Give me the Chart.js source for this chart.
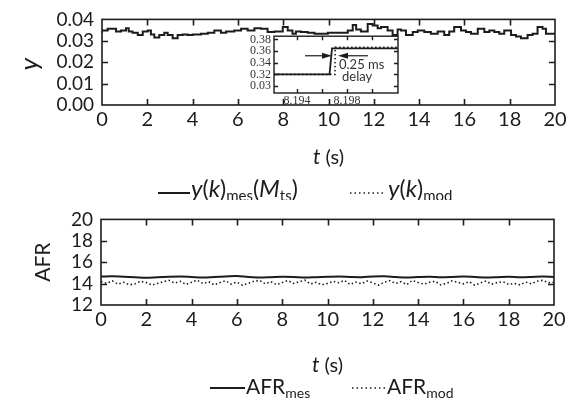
<!DOCTYPE html>
<html>
<head>
<meta charset="utf-8">
<script src="https://cdn.jsdelivr.net/npm/chart.js@4/dist/chart.umd.min.js"></script>
<style>
body{margin:0;background:#fff;}
#wrap{position:relative;width:571px;height:401px;overflow:hidden;}
canvas{position:absolute;}
</style>
</head>
<body>
<div id="wrap">
<canvas id="top" width="571" height="200" style="left:0;top:0"></canvas>
<canvas id="afr" width="571" height="201" style="left:0;top:200px"></canvas>
<canvas id="inset" width="180" height="86" style="left:226px;top:26px"></canvas>
</div>
<script>
// top panel: y(k)_mes, stepped (breakpoints)
const mesT = [0,0.25,0.62,0.84,1.06,1.18,1.35,1.58,1.8,2.02,2.16,2.31,2.53,2.75,2.9,3.12,3.34,3.56,3.78,4.0,
  4.37,4.67,4.96,5.25,5.48,5.84,6.14,6.43,6.73,7.02,7.31,7.61,7.98,
  8.2,8.41,8.56,8.79,9.08,9.38,9.97,10.26,10.85,11.07,11.22,11.43,11.73,11.95,12.17,12.32,12.61,12.83,
  13.05,13.2,13.42,13.72,13.94,14.23,14.52,14.82,15.11,15.33,15.55,15.85,16.07,16.29,16.59,16.88,
  17.1,17.32,17.54,17.76,18.06,18.28,18.5,18.79,19.01,19.23,19.45,19.6,19.82,20];
const mesY = [0.0336,0.0348,0.0356,0.0344,0.0348,0.0359,0.0344,0.0338,0.0327,0.0344,0.0348,0.0329,0.0315,0.0327,0.0338,0.0327,0.0312,0.0327,0.0330,0.0327,
  0.0330,0.0333,0.0338,0.0348,0.0338,0.0344,0.0348,0.0356,0.0348,0.0359,0.0356,0.0341,0.0344,
  0.0364,0.0348,0.0333,0.0344,0.0341,0.0338,0.0333,0.0338,0.0338,0.0348,0.0374,0.0353,0.0344,0.0379,0.0371,0.0359,0.0364,0.0348,
  0.0327,0.0353,0.0348,0.0327,0.0341,0.0348,0.0341,0.0333,0.0344,0.0327,0.0344,0.0364,0.0348,0.0341,0.0333,0.0356,
  0.0341,0.0348,0.0341,0.0333,0.0348,0.0327,0.0320,0.0312,0.0327,0.0333,0.0364,0.0356,0.0333,0.0333];
const topTicksX = [0,2,4,6,8,10,12,14,16,18,20];
const topTicksY = [0,0.01,0.02,0.03,0.04];

// inset: zoom on the step near t = 8.197 s
const insetMesT = [8.19216,8.1966,8.1968,8.20208];
const insetMesY = [0.32,0.32,0.3648,0.3648];
const insetModT = [8.19216,8.19704,8.19705,8.20208];
const insetModY = [0.32,0.32,0.3664,0.3664];
const insetTicksX = [8.194,8.196,8.198,8.2];
const insetLabelsX = {'8.194':'8.194','8.198':'8.198'};
const insetTicksY = [0.30,0.32,0.34,0.36,0.38];
const insetLabelsY = ['0.03','0.32','0.34','0.36','0.38'];
const arrowY = 0.352;
const arrowLeft = [8.19464,8.1968];
const arrowRight = [8.19968,8.19728];

// bottom panel: AFR
const afrMesT = [0,0.5,1,1.5,2,2.5,3,3.5,4,4.5,5,5.5,6,6.5,7,7.5,8,8.5,9,9.5,
  10,10.5,11,11.5,12,12.5,13,13.5,14,14.5,15,15.5,16,16.5,17,17.5,18,18.5,19,19.5,20];
const afrMes = [14.66,14.68,14.64,14.6,14.55,14.6,14.64,14.66,14.62,14.58,
  14.62,14.66,14.7,14.62,14.57,14.6,14.64,14.62,14.56,14.6,
  14.63,14.66,14.62,14.6,14.66,14.68,14.62,14.57,14.62,14.65,
  14.6,14.62,14.66,14.62,14.57,14.6,14.64,14.6,14.62,14.66,14.62];
const afrModT = [0,0.25,0.5,0.75,1,1.25,1.5,1.75,2,2.25,2.5,2.75,3,3.25,3.5,3.75,4,4.25,4.5,4.75,
  5,5.25,5.5,5.75,6,6.25,6.5,6.75,7,7.25,7.5,7.75,8,8.25,8.5,8.75,9,9.25,9.5,9.75,
  10,10.25,10.5,10.75,11,11.25,11.5,11.75,12,12.25,12.5,12.75,13,13.25,13.5,13.75,14,14.25,14.5,14.75,
  15,15.25,15.5,15.75,16,16.25,16.5,16.75,17,17.25,17.5,17.75,18,18.25,18.5,18.75,19,19.25,19.5,19.75,20];
const afrMod = [14.18,14.02,14.25,13.95,14.12,13.88,13.98,14.22,14.1,13.86,
  14.02,14.18,14.3,14.05,14.22,13.92,14.12,14.32,14.0,14.18,
  13.88,14.1,14.26,13.95,14.14,13.84,14.02,14.22,14.3,13.98,
  14.18,13.9,14.1,14.28,14.02,14.18,14.32,13.96,14.12,13.88,
  14.02,14.22,14.08,14.3,13.92,14.14,13.98,14.24,14.06,13.86,
  14.12,14.28,14.02,14.18,13.9,14.3,14.1,13.95,14.12,14.22,
  13.88,14.02,14.26,14.12,13.98,14.18,13.86,14.06,14.24,13.95,
  14.1,14.18,13.92,14.02,13.88,14.14,13.98,14.22,14.3,14.08,14.12];
const afrTicksY = [12,14,16,18,20];

const INK = '#1c1c1c';
const FONT = 'Lato';

function pts(xs, ys){ return xs.map((x,i)=>({x:x,y:ys[i]})); }

// write text made of pieces (italic, subscripts) side by side
function rich(ctx, x, y, parts, align){
  let w = 0;
  parts.forEach(p=>{ ctx.font = p[1]; w += ctx.measureText(p[0]).width; });
  let cx = align === 'center' ? x - w/2 : x;
  ctx.textAlign = 'left';
  ctx.textBaseline = 'alphabetic';
  parts.forEach(p=>{ ctx.font = p[1]; ctx.fillText(p[0], cx, y + (p[2]||0)); cx += ctx.measureText(p[0]).width; });
}

function sample(ctx, x1, x2, y, dotted){
  ctx.save();
  ctx.strokeStyle = INK;
  ctx.lineWidth = dotted ? 1.6 : 2;
  if (dotted) ctx.setLineDash([1.5,3]);
  ctx.beginPath(); ctx.moveTo(x1,y); ctx.lineTo(x2,y); ctx.stroke();
  ctx.restore();
}

// box round the plot with inward ticks on all four sides
const frame = {
  id:'frame',
  afterDatasetsDraw(chart, args, o){
    const ctx = chart.ctx, a = chart.chartArea, xs = chart.scales.x, ys = chart.scales.y;
    const len = o.len || 6;
    ctx.save();
    ctx.strokeStyle = o.color || INK;
    ctx.lineWidth = o.width || 1.5;
    ctx.strokeRect(a.left, a.top, a.right-a.left, a.bottom-a.top);
    ctx.beginPath();
    xs.ticks.forEach(t=>{
      const p = Math.round(xs.getPixelForValue(t.value)) + 0.5;
      if (p <= a.left+1 || p >= a.right-1) return;
      ctx.moveTo(p, a.bottom); ctx.lineTo(p, a.bottom-len);
      ctx.moveTo(p, a.top); ctx.lineTo(p, a.top+len);
    });
    ys.ticks.forEach(t=>{
      const p = Math.round(ys.getPixelForValue(t.value)) + 0.5;
      if (p <= a.top+1 || p >= a.bottom-1) return;
      ctx.moveTo(a.left, p); ctx.lineTo(a.left+len, p);
      ctx.moveTo(a.right, p); ctx.lineTo(a.right-len, p);
    });
    ctx.stroke();
    ctx.restore();
  }
};

function axisX(ticks, h){
  return {
    type:'linear', min:ticks[0], max:ticks[ticks.length-1],
    afterBuildTicks(s){ s.ticks = ticks.map(v=>({value:v})); },
    ticks:{font:{family:FONT,size:20}, color:INK, padding:3, maxRotation:0, autoSkip:false},
    grid:{display:false, drawTicks:false}, border:{display:false},
    afterFit(s){ s.height = h; }
  };
}
function axisY(ticks, w, fmt){
  return {
    min:ticks[0], max:ticks[ticks.length-1],
    afterBuildTicks(s){ s.ticks = ticks.map(v=>({value:v})); },
    ticks:{font:{family:FONT,size:19}, color:INK, padding:8, autoSkip:false, callback:fmt},
    grid:{display:false, drawTicks:false}, border:{display:false},
    afterFit(s){ s.width = w; }
  };
}

const common = {
  responsive:false, animation:false, events:[],
  plugins:{legend:{display:false}, tooltip:{enabled:false}, frame:{width:1.6, len:6}}
};

new Chart(document.getElementById('top'), {
  type:'line',
  data:{datasets:[{data:pts(mesT,mesY), stepped:'after', borderColor:INK, borderWidth:2, pointRadius:0}]},
  options:Object.assign({}, common, {
    layout:{padding:{top:17, right:16, left:0, bottom:70}},
    scales:{x:axisX(topTicksX,25), y:axisY(topTicksY,102, v=>v.toFixed(2))}
  }),
  plugins:[frame, {
    id:'topNotes',
    afterDraw(chart){
      const ctx = chart.ctx, a = chart.chartArea, cx = (a.left+a.right)/2;
      ctx.save();
      ctx.fillStyle = INK;
      ctx.save();
      ctx.translate(30, (a.top+a.bottom)/2 + 2);
      ctx.rotate(-Math.PI/2);
      ctx.textAlign = 'center'; ctx.textBaseline = 'middle';
      ctx.font = 'italic 26px ' + FONT;
      ctx.fillText('y', 0, 0);
      ctx.restore();
      rich(ctx, cx, a.bottom+59, [['t','italic 21px '+FONT],[' (s)','20px '+FONT]], 'center');
      const ly = a.bottom + 92;
      sample(ctx, 158, 190, ly-4, false);
      rich(ctx, 191, ly, [['y','italic 24px '+FONT],['(','23px '+FONT],['k','italic 24px '+FONT],[')','23px '+FONT],
        ['mes','15px '+FONT,4],['(','23px '+FONT],['M','italic 24px '+FONT],['ts','15px '+FONT,4],[')','23px '+FONT]]);
      sample(ctx, 350, 386, ly-4, true);
      rich(ctx, 388, ly, [['y','italic 24px '+FONT],['(','23px '+FONT],['k','italic 24px '+FONT],[')','23px '+FONT],
        ['mod','15px '+FONT,4]]);
      ctx.restore();
    }
  }]
});

new Chart(document.getElementById('inset'), {
  type:'line',
  data:{datasets:[
    {data:pts(insetMesT,insetMesY), borderColor:INK, borderWidth:1.8, pointRadius:0},
    {data:pts(insetModT,insetModY), borderColor:INK, borderWidth:1.6, borderDash:[1.5,2.5], pointRadius:0}
  ]},
  options:Object.assign({}, common, {
    layout:{padding:{top:6, right:8, left:0, bottom:0}},
    plugins:{legend:{display:false}, tooltip:{enabled:false}, frame:{width:1.4, len:4}},
    scales:{
      x:{type:'linear', min:8.19216, max:8.20208,
        afterBuildTicks(s){ s.ticks = insetTicksX.map(v=>({value:v})); },
        ticks:{font:{family:'Liberation Serif',size:12}, color:'#333', padding:1, maxRotation:0, autoSkip:false,
          callback:v=>insetLabelsX[v.toFixed(3)] || ''},
        grid:{display:false, drawTicks:false}, border:{display:false},
        afterFit(s){ s.height = 19; }},
      y:{min:0.288, max:0.3856,
        afterBuildTicks(s){ s.ticks = insetTicksY.map(v=>({value:v})); },
        ticks:{font:{family:'Liberation Serif',size:12}, color:'#333', padding:3, autoSkip:false,
          callback:(v,i)=>insetLabelsY[i]},
        grid:{display:false, drawTicks:false}, border:{display:false},
        afterFit(s){ s.width = 48; }}
    }
  }),
  plugins:[{
    id:'insetBg',
    beforeDatasetsDraw(chart){
      const a = chart.chartArea, ctx = chart.ctx;
      ctx.save(); ctx.fillStyle = '#fff'; ctx.fillRect(a.left, a.top, a.right-a.left, a.bottom-a.top); ctx.restore();
    }
  }, frame, {
    id:'insetNotes',
    afterDraw(chart){
      const ctx = chart.ctx, xs = chart.scales.x, ys = chart.scales.y;
      const y = ys.getPixelForValue(arrowY);
      function arrow(x1, x2){
        const d = x2 > x1 ? 1 : -1;
        ctx.beginPath(); ctx.moveTo(x1,y); ctx.lineTo(x2-d*8,y); ctx.stroke();
        ctx.beginPath(); ctx.moveTo(x2,y); ctx.lineTo(x2-d*10,y-3); ctx.lineTo(x2-d*10,y+3); ctx.closePath(); ctx.fill();
      }
      ctx.save();
      ctx.strokeStyle = INK; ctx.fillStyle = INK; ctx.lineWidth = 1.2;
      arrow(xs.getPixelForValue(arrowLeft[0]), xs.getPixelForValue(arrowLeft[1]));
      arrow(xs.getPixelForValue(arrowRight[0]), xs.getPixelForValue(arrowRight[1]));
      ctx.fillStyle = '#333';
      ctx.font = '13px ' + FONT; ctx.textAlign = 'left'; ctx.textBaseline = 'middle';
      ctx.fillText('0.25 ms', xs.getPixelForValue(8.19736), ys.getPixelForValue(0.336));
      ctx.fillText('delay', xs.getPixelForValue(8.1976), ys.getPixelForValue(0.315));
      ctx.restore();
    }
  }]
});

new Chart(document.getElementById('afr'), {
  type:'line',
  data:{datasets:[
    {data:pts(afrMesT,afrMes), borderColor:INK, borderWidth:2, pointRadius:0, tension:0.3},
    {data:pts(afrModT,afrMod), borderColor:INK, borderWidth:1.6, borderDash:[1.5,2.5], pointRadius:0}
  ]},
  options:Object.assign({}, common, {
    layout:{padding:{top:17, right:17, left:0, bottom:71}},
    scales:{x:axisX(topTicksX,25), y:axisY(afrTicksY,101, v=>String(v))}
  }),
  plugins:[frame, {
    id:'afrNotes',
    afterDraw(chart){
      const ctx = chart.ctx, a = chart.chartArea, cx = (a.left+a.right)/2;
      ctx.save();
      ctx.fillStyle = INK;
      ctx.save();
      ctx.translate(43, (a.top+a.bottom)/2);
      ctx.rotate(-Math.PI/2);
      ctx.textAlign = 'center'; ctx.textBaseline = 'middle';
      ctx.font = '21px ' + FONT;
      ctx.fillText('AFR', 0, 0);
      ctx.restore();
      rich(ctx, cx, a.bottom+67, [['t','italic 21px '+FONT],[' (s)','20px '+FONT]], 'center');
      const ly = a.bottom + 89;
      sample(ctx, 210, 245, ly-6, false);
      rich(ctx, 246, ly, [['AFR','21px '+FONT],['mes','14px '+FONT,4]]);
      sample(ctx, 352, 385, ly-6, true);
      rich(ctx, 387, ly, [['AFR','21px '+FONT],['mod','14px '+FONT,4]]);
      ctx.restore();
    }
  }]
});
</script>
</body>
</html>
